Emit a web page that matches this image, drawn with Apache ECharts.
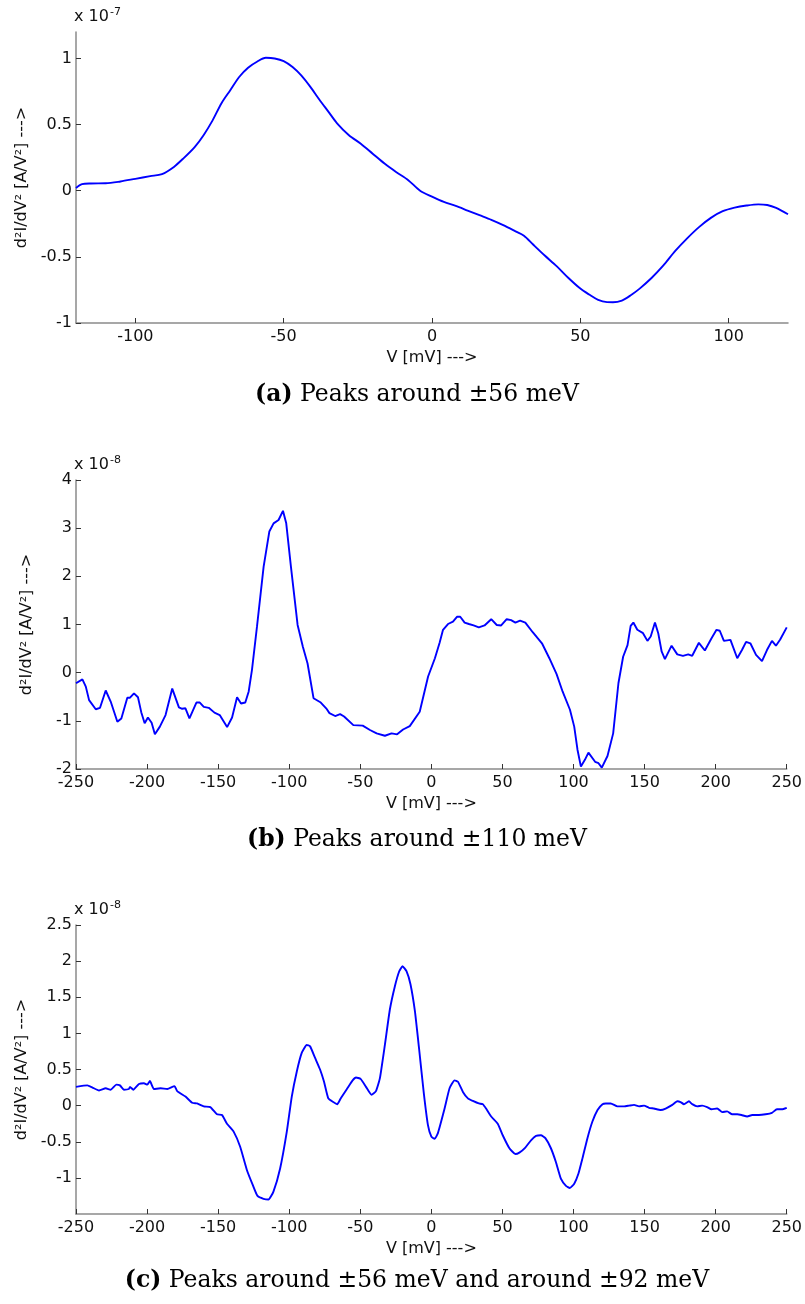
<!DOCTYPE html>
<html>
<head>
<meta charset="utf-8">
<script src="https://cdn.jsdelivr.net/npm/echarts@6/dist/echarts.min.js"></script>
<style>
  html, body { margin: 0; padding: 0; background: #fff; }
  #chart { width: 805px; height: 1304px; }
</style>
</head>
<body>
<div id="chart"></div>
<script>
// ---------------- DATA ----------------
// Panel (a): V [mV] vs d2I/dV2 [x 1e-7 A/V^2]
const curveA = [
  [-120,0.02],[-118,0.05],[-115,0.055],[-110,0.056],[-105,0.07],[-100,0.09],[-95,0.11],[-91,0.126],
  [-87,0.18],[-84,0.24],[-80,0.33],[-77,0.42],[-74,0.53],[-71,0.66],[-68,0.76],[-65,0.86],[-62,0.93],
  [-59,0.975],[-56,1.005],[-53,1.0],[-50,0.98],[-47,0.935],[-44,0.87],[-41,0.785],[-38,0.69],[-35,0.6],
  [-32,0.51],[-28,0.42],[-24,0.355],[-20,0.28],[-16,0.205],[-12,0.14],[-8,0.08],[-4,0.0],[0,-0.045],
  [4,-0.085],[8,-0.115],[12,-0.15],[16,-0.185],[20,-0.22],[24,-0.26],[28,-0.305],[31,-0.34],[34,-0.405],
  [38,-0.49],[42,-0.57],[46,-0.66],[50,-0.74],[53,-0.785],[56,-0.825],[59,-0.842],[61,-0.843],[64,-0.83],
  [67,-0.79],[70,-0.74],[74,-0.66],[78,-0.565],[82,-0.455],[86,-0.36],[90,-0.275],[94,-0.205],[98,-0.155],
  [102,-0.128],[106,-0.112],[110,-0.103],[113,-0.108],[116,-0.13],[120,-0.178]
];
// Panel (b): V [mV] vs d2I/dV2 [x 1e-8 A/V^2]
const curveB = [
  [-250,-0.22],[-245.5,-0.14],[-243.1,-0.29],[-240.8,-0.57],[-236.1,-0.76],[-233.1,-0.73],[-229.1,-0.37],
  [-225.6,-0.60],[-220.9,-1.02],[-218.1,-0.95],[-213.9,-0.52],[-212.0,-0.52],[-209.2,-0.43],[-206.4,-0.51],
  [-204.1,-0.82],[-201.7,-1.05],[-199.4,-0.93],[-196.8,-1.04],[-194.5,-1.28],[-191.0,-1.12],[-187.0,-0.88],
  [-182.3,-0.33],[-177.6,-0.72],[-175.3,-0.75],[-173.0,-0.74],[-170.2,-0.95],[-165.3,-0.62],[-162.9,-0.62],
  [-160.1,-0.71],[-156.6,-0.73],[-152.6,-0.83],[-148.9,-0.88],[-143.7,-1.13],[-140.2,-0.93],[-136.7,-0.51],
  [-133.9,-0.64],[-130.9,-0.62],[-128.5,-0.39],[-126.2,0.06],[-122.7,0.95],[-118.0,2.20],[-114.0,2.93],
  [-111.0,3.10],[-107.5,3.17],[-104.4,3.36],[-102.1,3.10],[-98.8,2.20],[-94.1,0.99],[-90.4,0.54],
  [-87.1,0.19],[-82.9,-0.53],[-77.8,-0.62],[-74.0,-0.74],[-71.7,-0.84],[-67.7,-0.90],[-64.2,-0.86],
  [-61.4,-0.91],[-54.9,-1.09],[-48.3,-1.10],[-43.2,-1.19],[-38.5,-1.26],[-32.7,-1.31],[-28.0,-1.26],
  [-24.1,-1.28],[-19.9,-1.18],[-15.2,-1.11],[-8.2,-0.81],[-2.3,-0.08],[2.5,0.30],[5.8,0.62],[8.2,0.89],
  [11.7,1.01],[15.2,1.06],[18.0,1.16],[20.3,1.16],[23.4,1.04],[26.4,1.01],[29.7,0.98],[33.4,0.94],
  [37.4,0.98],[42.1,1.11],[46.0,0.99],[49.1,0.98],[53.0,1.11],[56.1,1.09],[59.1,1.04],[62.4,1.08],
  [66.1,1.04],[71.3,0.84],[77.8,0.61],[83.0,0.30],[88.1,-0.03],[92.3,-0.39],[97.5,-0.77],[100.5,-1.12],
  [102.8,-1.60],[105.2,-1.95],[108.0,-1.81],[110.5,-1.66],[115.2,-1.85],[117.6,-1.88],[119.9,-1.97],
  [123.9,-1.73],[127.9,-1.26],[131.6,-0.22],[134.9,0.33],[138.0,0.57],[140.2,0.97],[142.1,1.04],
  [144.9,0.89],[148.9,0.82],[152.0,0.66],[154.3,0.75],[157.3,1.04],[159.6,0.82],[162.0,0.44],[164.3,0.28],
  [169.0,0.56],[173.0,0.38],[177.0,0.35],[180.7,0.38],[183.5,0.35],[188.2,0.62],[192.4,0.46],[197.0,0.71],
  [200.6,0.89],[202.9,0.87],[205.8,0.66],[210.4,0.68],[215.2,0.30],[218.5,0.47],[221.4,0.64],[224.4,0.61],
  [228.4,0.37],[232.6,0.24],[236.1,0.47],[239.6,0.66],[242.4,0.56],[245.4,0.69],[250,0.94]
];
// Panel (c): V [mV] vs d2I/dV2 [x 1e-8 A/V^2]
const curveC = [
  [-250,0.26],[-242,0.28],[-238.4,0.25],[-233.8,0.21],[-229.1,0.24],[-225.6,0.22],[-221.6,0.29],[-219.1,0.28],
  [-216.3,0.22],[-212.8,0.23],[-212.0,0.26],[-209.7,0.22],[-205.7,0.30],[-202.2,0.31],[-199.8,0.29],
  [-198.0,0.34],[-195.2,0.23],[-190.5,0.24],[-185.8,0.23],[-180.7,0.27],[-178.8,0.20],[-173.0,0.125],
  [-168.3,0.04],[-164.8,0.03],[-160.1,-0.01],[-155.5,-0.02],[-150.8,-0.12],[-147.3,-0.13],[-143.8,-0.25],
  [-139.1,-0.36],[-134.5,-0.57],[-129.8,-0.89],[-125.6,-1.10],[-122.3,-1.25],[-118.1,-1.29],[-114.6,-1.30],
  [-111.1,-1.19],[-106.4,-0.87],[-101.7,-0.36],[-98.2,0.125],[-94.7,0.47],[-91.2,0.73],[-87.7,0.84],
  [-85.3,0.82],[-81.8,0.66],[-78.3,0.50],[-75.5,0.33],[-72.5,0.10],[-69.0,0.05],[-66.2,0.02],[-63.8,0.10],
  [-59.1,0.24],[-55.4,0.35],[-53.0,0.39],[-49.8,0.37],[-46.0,0.26],[-42.1,0.15],[-39.0,0.20],[-36.2,0.38],
  [-32.7,0.84],[-29.2,1.33],[-25.7,1.65],[-22.6,1.86],[-20.3,1.93],[-17.5,1.86],[-14.7,1.68],[-11.6,1.31],
  [-8.6,0.78],[-5.3,0.17],[-2.4,-0.27],[0.0,-0.43],[2.3,-0.46],[4.6,-0.38],[9.3,-0.04],[12.8,0.24],
  [16.3,0.35],[18.7,0.33],[22.2,0.19],[25.7,0.10],[29.2,0.065],[33.4,0.03],[36.2,0.02],[38.5,-0.04],
  [42.1,-0.15],[46.7,-0.25],[50.2,-0.41],[54.9,-0.59],[59.1,-0.67],[61.9,-0.65],[66.1,-0.58],[70.1,-0.48],
  [73.6,-0.42],[77.1,-0.41],[80.2,-0.45],[84.1,-0.59],[87.6,-0.78],[91.1,-1.01],[94.7,-1.11],[97.4,-1.14],
  [100.5,-1.08],[103.5,-0.94],[106.3,-0.73],[109.8,-0.45],[113.3,-0.22],[116.9,-0.06],[120.4,0.02],
  [122.7,0.03],[126.2,0.03],[130.9,-0.01],[135.6,-0.01],[139.1,0.0],[142.6,0.01],[146.1,-0.01],[149.6,0.0],
  [153.1,-0.03],[156.6,-0.04],[161.3,-0.06],[164.8,-0.04],[169.5,0.01],[173.0,0.06],[175.3,0.05],
  [177.7,0.02],[181.2,0.06],[183.5,0.02],[187.0,-0.01],[190.5,0.0],[194.0,-0.02],[197.1,-0.05],
  [201.1,-0.04],[204.6,-0.09],[208.1,-0.08],[211.6,-0.12],[215.2,-0.12],[218.2,-0.13],[222.2,-0.15],
  [225.7,-0.13],[230.4,-0.13],[235.1,-0.12],[239.6,-0.10],[243.1,-0.05],[246.6,-0.05],[250,-0.03]
];

// Tick values
const xTicksA = [-100, -50, 0, 50, 100];
const yTicksA = [-1, -0.5, 0, 0.5, 1];
const xTicksBC = [-250, -200, -150, -100, -50, 0, 50, 100, 150, 200, 250];
const yTicksB = [-2, -1, 0, 1, 2, 3, 4];
const yTicksC = [-1, -0.5, 0, 0.5, 1, 1.5, 2, 2.5];

// Texts
const xName = 'V [mV] --->';
const yName = 'd\u00B2I/dV\u00B2 [A/V\u00B2] --->';
const exponents = ['-7', '-8', '-8'];
const captionLabels = ['(a)', '(b)', '(c)'];
const captionTexts = ['Peaks around \u00B156 meV', 'Peaks around \u00B1110 meV', 'Peaks around \u00B156 meV and around \u00B192 meV'];

// ---------------- LAYOUT ----------------
const SANS = 'DejaVu Sans, Liberation Sans, Arial, sans-serif';
const SERIF = 'DejaVu Serif, serif';
const panels = [
  { top: 32,  height: 291, xMin: -120, xMax: 120, yMin: -1,   yMax: 1.2, xTicks: xTicksA,  yTicks: yTicksA, data: curveA, smooth: 0.3, caption: 395 },
  { top: 480, height: 289, xMin: -250, xMax: 250, yMin: -2,   yMax: 4,   xTicks: xTicksBC, yTicks: yTicksB, data: curveB, smooth: false, caption: 840 },
  { top: 925, height: 289, xMin: -250, xMax: 250, yMin: -1.5, yMax: 2.5, xTicks: xTicksBC, yTicks: yTicksC, data: curveC, smooth: 0.15, caption: 1281 }
];
const GRID_LEFT = 76, GRID_W = 712;

const grids = [], xAxes = [], yAxes = [], series = [], graphics = [];
panels.forEach((p, i) => {
  grids.push({ left: GRID_LEFT, top: p.top, width: GRID_W, height: p.height, containLabel: false });
  xAxes.push({
    gridIndex: i, type: 'value', min: p.xMin, max: p.xMax,
    axisLine: { show: true, onZero: false, lineStyle: { color: '#8a8a8a', width: 1.5 } },
    axisTick: { show: true, inside: true, length: 5, customValues: p.xTicks, lineStyle: { color: '#333', width: 1 } },
    axisLabel: { customValues: p.xTicks, color: '#111', fontSize: 16, fontFamily: SANS, margin: 6 },
    splitLine: { show: false },
    name: xName, nameLocation: 'middle', nameGap: 27,
    nameTextStyle: { color: '#111', fontSize: 16, fontFamily: SANS }
  });
  yAxes.push({
    gridIndex: i, type: 'value', min: p.yMin, max: p.yMax,
    axisLine: { show: true, onZero: false, lineStyle: { color: '#8a8a8a', width: 1.5 } },
    axisTick: { show: true, inside: true, length: 5, customValues: p.yTicks, lineStyle: { color: '#333', width: 1 } },
    axisLabel: { customValues: p.yTicks, color: '#111', fontSize: 16, fontFamily: SANS, margin: 4 },
    splitLine: { show: false },
    name: yName, nameLocation: 'middle', nameGap: 41, nameRotate: 90,
    nameTextStyle: { color: '#111', fontSize: 16, fontFamily: SANS }
  });
  series.push({
    type: 'line', xAxisIndex: i, yAxisIndex: i, data: p.data,
    showSymbol: false, smooth: p.smooth, clip: false,
    lineStyle: { color: '#0000ff', width: 1.9 }
  });
  // multiplier label "x 10^-n"
  graphics.push({
    type: 'text', x: GRID_LEFT - 2, y: p.top - 5,
    style: {
      text: '{m|x 10}{s|' + exponents[i] + '}',
      verticalAlign: 'bottom', align: 'left',
      rich: {
        m: { fontSize: 16, fontFamily: SANS, fill: '#111', color: '#111' },
        s: { fontSize: 11, fontFamily: SANS, fill: '#111', color: '#111', padding: [0, 0, 9, 1] }
      }
    }
  });
  // caption
  graphics.push({
    type: 'text', x: 417, y: p.caption,
    style: {
      text: '{b|' + captionLabels[i] + '}{r| ' + captionTexts[i] + '}',
      align: 'center', verticalAlign: 'middle',
      rich: {
        b: { fontSize: 23.5, fontFamily: SERIF, fontWeight: 'bold', fill: '#000', color: '#000' },
        r: { fontSize: 23.5, fontFamily: SERIF, fill: '#000', color: '#000' }
      }
    }
  });
});

const chart = echarts.init(document.getElementById('chart'), null, { renderer: 'canvas' });
chart.setOption({
  animation: false,
  backgroundColor: '#fff',
  grid: grids,
  xAxis: xAxes,
  yAxis: yAxes,
  series: series,
  graphic: graphics
});
</script>
</body>
</html>
